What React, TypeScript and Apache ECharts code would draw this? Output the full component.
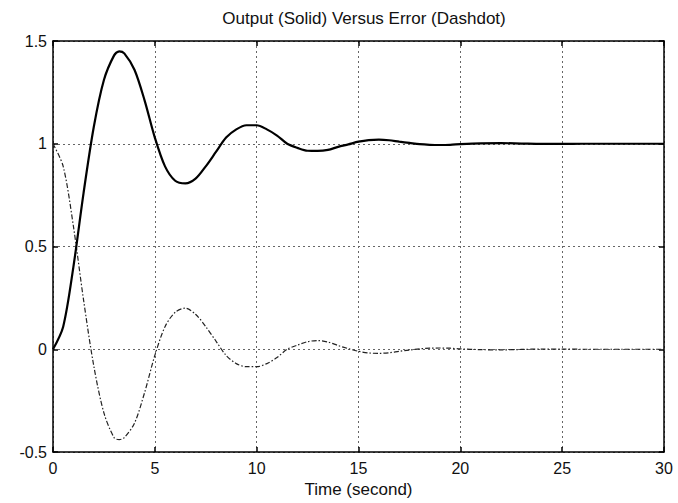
import React, { useEffect, useRef } from "react";
import * as echarts from "echarts";

const timeSeconds = [
  0, 0.5, 1, 1.5, 2, 2.5, 3, 3.25, 3.5, 4, 4.5, 5, 5.5, 6, 6.5, 7, 7.5, 8, 8.5, 9,
  9.5, 10, 10.5, 11, 11.5, 12, 12.5, 13, 13.5, 14, 14.5, 15, 15.5, 16, 16.5, 17,
  17.5, 18, 18.5, 19, 19.5, 20, 21, 22, 23, 24, 25, 26, 27, 28, 29, 30,
];

const outputSolid = [
  0, 0.11, 0.4, 0.76, 1.08, 1.31, 1.43, 1.45, 1.44, 1.36, 1.21, 1.03, 0.89, 0.82,
  0.807, 0.83, 0.89, 0.96, 1.03, 1.07, 1.09, 1.09, 1.07, 1.04, 1.0, 0.98, 0.966,
  0.965, 0.97, 0.985, 0.997, 1.01, 1.018, 1.02, 1.017, 1.01, 1.004, 0.998, 0.995,
  0.994, 0.995, 0.998, 1.002, 1.003, 1.001, 0.999, 0.999, 1.0, 1.0, 1.0, 1.0, 1.0,
];

const errorDashdot = [
  1, 0.89, 0.6, 0.24, -0.08, -0.31, -0.43, -0.44, -0.43, -0.36, -0.21, -0.03, 0.11,
  0.18, 0.2, 0.17, 0.11, 0.04, -0.03, -0.07, -0.085, -0.085, -0.07, -0.04, 0.0,
  0.02, 0.037, 0.042, 0.035, 0.018, 0.003, -0.01, -0.018, -0.02, -0.017, -0.01,
  -0.004, 0.002, 0.005, 0.006, 0.005, 0.002, -0.002, -0.003, -0.001, 0.001, 0.001,
  0, 0, 0, 0, 0,
];

const xTickValues = [0, 5, 10, 15, 20, 25, 30];
const yTickValues = [-0.5, 0, 0.5, 1, 1.5];

const FONT = "'Liberation Sans', Arial, sans-serif";

export default function App() {
  const ref = useRef<HTMLDivElement>(null);

  useEffect(() => {
    if (!ref.current) return;
    const chart = echarts.init(ref.current, undefined, { renderer: "svg" });

    const outData = timeSeconds.map((t, i) => [t, outputSolid[i]]);
    const errData = timeSeconds.map((t, i) => [t, errorDashdot[i]]);

    const gridLine = { show: true, lineStyle: { color: "#666", width: 1, type: [2, 3] as any } };
    const boxLine = { show: true, onZero: false, lineStyle: { color: "#000", width: 1.5 } };
    const tick = { show: true, inside: true, length: 5, lineStyle: { color: "#000", width: 1.5 } };

    chart.setOption({
      animation: false,
      backgroundColor: "#fff",
      title: {
        text: "Output (Solid) Versus Error (Dashdot)",
        left: 359,
        top: 5,
        textAlign: "center",
        textStyle: { fontFamily: FONT, fontSize: 17, fontWeight: "normal", color: "#111" },
      },
      grid: { left: 53, right: 14, top: 41, bottom: 48, show: false },
      xAxis: [
        {
          type: "value",
          min: xTickValues[0],
          max: xTickValues[xTickValues.length - 1],
          interval: 5,
          position: "bottom",
          name: "Time (second)",
          nameLocation: "middle",
          nameGap: 29,
          nameTextStyle: { fontFamily: FONT, fontSize: 17, color: "#111" },
          axisLine: boxLine,
          axisTick: tick,
          axisLabel: { fontFamily: FONT, fontSize: 16, color: "#111", margin: 8 },
          splitLine: gridLine,
        },
        {
          type: "value",
          min: xTickValues[0],
          max: xTickValues[xTickValues.length - 1],
          interval: 5,
          position: "top",
          axisLine: boxLine,
          axisTick: tick,
          axisLabel: { show: false },
          splitLine: { show: false },
        },
      ],
      yAxis: [
        {
          type: "value",
          min: yTickValues[0],
          max: yTickValues[yTickValues.length - 1],
          interval: 0.5,
          position: "left",
          axisLine: boxLine,
          axisTick: tick,
          axisLabel: { fontFamily: FONT, fontSize: 16, color: "#111", margin: 6 },
          splitLine: gridLine,
        },
        {
          type: "value",
          min: yTickValues[0],
          max: yTickValues[yTickValues.length - 1],
          interval: 0.5,
          position: "right",
          axisLine: boxLine,
          axisTick: tick,
          axisLabel: { show: false },
          splitLine: { show: false },
        },
      ],
      series: [
        {
          name: "Output",
          type: "line",
          data: outData,
          smooth: 0.3,
          showSymbol: false,
          lineStyle: { color: "#000", width: 2.2 },
          z: 3,
        },
        {
          name: "Error",
          type: "line",
          data: errData,
          smooth: 0.3,
          showSymbol: false,
          lineStyle: { color: "#222", width: 1.2, type: [5, 2, 1.5, 2] as any },
          z: 2,
        },
      ],
    });

    return () => chart.dispose();
  }, []);

  return <div ref={ref} style={{ width: 678, height: 503, position: "absolute", left: 0, top: 0 }} />;
}
